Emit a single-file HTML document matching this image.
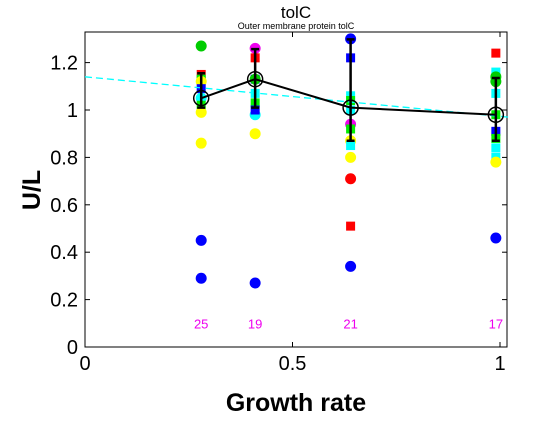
<!DOCTYPE html>
<html><head><meta charset="utf-8"><style>
body{margin:0;background:#fff;width:560px;height:420px;overflow:hidden;font-family:"Liberation Sans",sans-serif}
</style></head><body>
<svg id="c" width="560" height="420" xmlns="http://www.w3.org/2000/svg">
<rect x="85" y="32" width="422" height="315" fill="#fff" stroke="#000"/>
<text x="296" y="18" font-size="17" text-anchor="middle">tolC</text>
<text x="296" y="29" font-size="9" text-anchor="middle">Outer membrane protein tolC</text>
<text x="0" y="0" font-size="25" font-weight="bold" text-anchor="middle" transform="translate(40,190) rotate(-90)">U/L</text>
<text x="296" y="411" font-size="25" font-weight="bold" text-anchor="middle">Growth rate</text>
<g id="g"></g>
</svg>
<script>
const xTicks=[0,0.5,1];
const xTickLabels=["0","0.5","1"];
const yTicks=[0,0.2,0.4,0.6,0.8,1,1.2];
const yTickLabels=["0","0.2","0.4","0.6","0.8","1","1.2"];
const groupX=[0.28,0.41,0.64,0.99];
const means=[1.05,1.13,1.01,0.98];
const errTop=[1.155,1.257,1.298,1.135];
const errBot=[1.01,1.01,0.87,0.87];
const counts=["25","19","21","17"];
const fitLine=[[0,1.14],[1.02,0.97]];
const ptGroup=[0,0,0,0,0,0,0,0,0,0,0, 1,1,1,1,1,1,1,1,1,1, 2,2,2,2,2,2,2,2,2,2,2,2,2, 3,3,3,3,3,3,3,3,3,3,3,3];
const ptVal=[1.27,1.15,1.13,1.12,1.09,1.05,1.02,0.99,0.86,0.45,0.29, 1.26,1.22,1.13,1.13,1.07,1.03,0.98,1.0,0.9,0.27, 1.30,1.22,1.06,1.04,1.0,0.94,0.92,0.87,0.85,0.80,0.71,0.51,0.34, 1.24,1.16,1.14,1.12,1.07,0.98,0.91,0.88,0.84,0.80,0.78,0.46];
const ptColor=["#0c0","red","#0e0","#ff0","#00f","cyan","#0e0","#ff0","#ff0","#00f","#00f", "#e0e","red","#00f","#0c0","cyan","#0e0","cyan","#00f","#ff0","#00f", "#00f","#00f","cyan","#0e0","cyan","#e0e","#0e0","#ff0","cyan","#ff0","red","red","#00f", "red","cyan","#0c0","#0c0","cyan","#0e0","#00f","#0e0","cyan","cyan","#ff0","#00f"];
const ptShape=["c","s","s","c","s","c","s","c","c","c","c", "c","s","s","c","s","s","c","s","c","c", "c","s","s","s","s","c","s","c","s","c","c","s","c", "s","s","c","c","s","s","s","s","s","s","c","c"];
const X=v=>85+v*415, Y=v=>347-v*237;
const g=document.getElementById('g'),NS="http://www.w3.org/2000/svg";
function mk(t,a){const e=document.createElementNS(NS,t);for(const k in a)e.setAttribute(k,a[k]);g.appendChild(e);return e;}
xTicks.forEach((v,i)=>{
 let t=mk('line',{x1:X(v),x2:X(v),y1:347,y2:342,stroke:'#000'});
 
 
 let t2=mk('line',{x1:X(v),x2:X(v),y1:32,y2:37,stroke:'#000'});
 
 
 let l=mk('text',{x:X(v),y:370,'font-size':20,'text-anchor':'middle'});l.textContent=xTickLabels[i];
 
 
});
yTicks.forEach((v,i)=>{
 let t=mk('line',{x1:85,x2:90,y1:Y(v),y2:Y(v),stroke:'#000'});
 
 
 let t2=mk('line',{x1:507,x2:502,y1:Y(v),y2:Y(v),stroke:'#000'});
 
 
 let l=mk('text',{x:78,y:Y(v)+7,'font-size':20,'text-anchor':'end'});l.textContent=yTickLabels[i];
 
 
});
ptVal.forEach((v,i)=>{
 const cx=X(groupX[ptGroup[i]]),cy=Y(v);let e;
 if(ptShape[i]=='c')e=mk('circle',{cx:cx,cy:cy,r:5.5,fill:ptColor[i]});
 else e=mk('rect',{x:cx-4.5,y:cy-4.5,width:9,height:9,fill:ptColor[i]});
 
 
});
let f=mk('line',{x1:X(fitLine[0][0]),y1:Y(fitLine[0][1]),x2:X(fitLine[1][0]),y2:Y(fitLine[1][1]),stroke:'cyan','stroke-width':1.3,'stroke-dasharray':'7,4'});


let p=mk('polyline',{points:groupX.map((x,i)=>X(x)+','+Y(means[i])).join(' '),fill:'none',stroke:'#000','stroke-width':2});


groupX.forEach((x,i)=>{
 const cx=X(x);
 let e=mk('path',{d:`M${cx},${Y(errTop[i])}V${Y(errBot[i])}M${cx-4},${Y(errTop[i])}h8M${cx-4},${Y(errBot[i])}h8`,stroke:'#000','stroke-width':2.5,fill:'none'});
 
 
 let c=mk('circle',{cx:cx,cy:Y(means[i]),r:7.5,fill:'none',stroke:'#000','stroke-width':1.5});
 
 
 let t=mk('text',{x:cx,y:Y(0.1)+5,'font-size':13,fill:'#e0e','text-anchor':'middle'});t.textContent=counts[i];
 
 
});
</script>
</body></html>
